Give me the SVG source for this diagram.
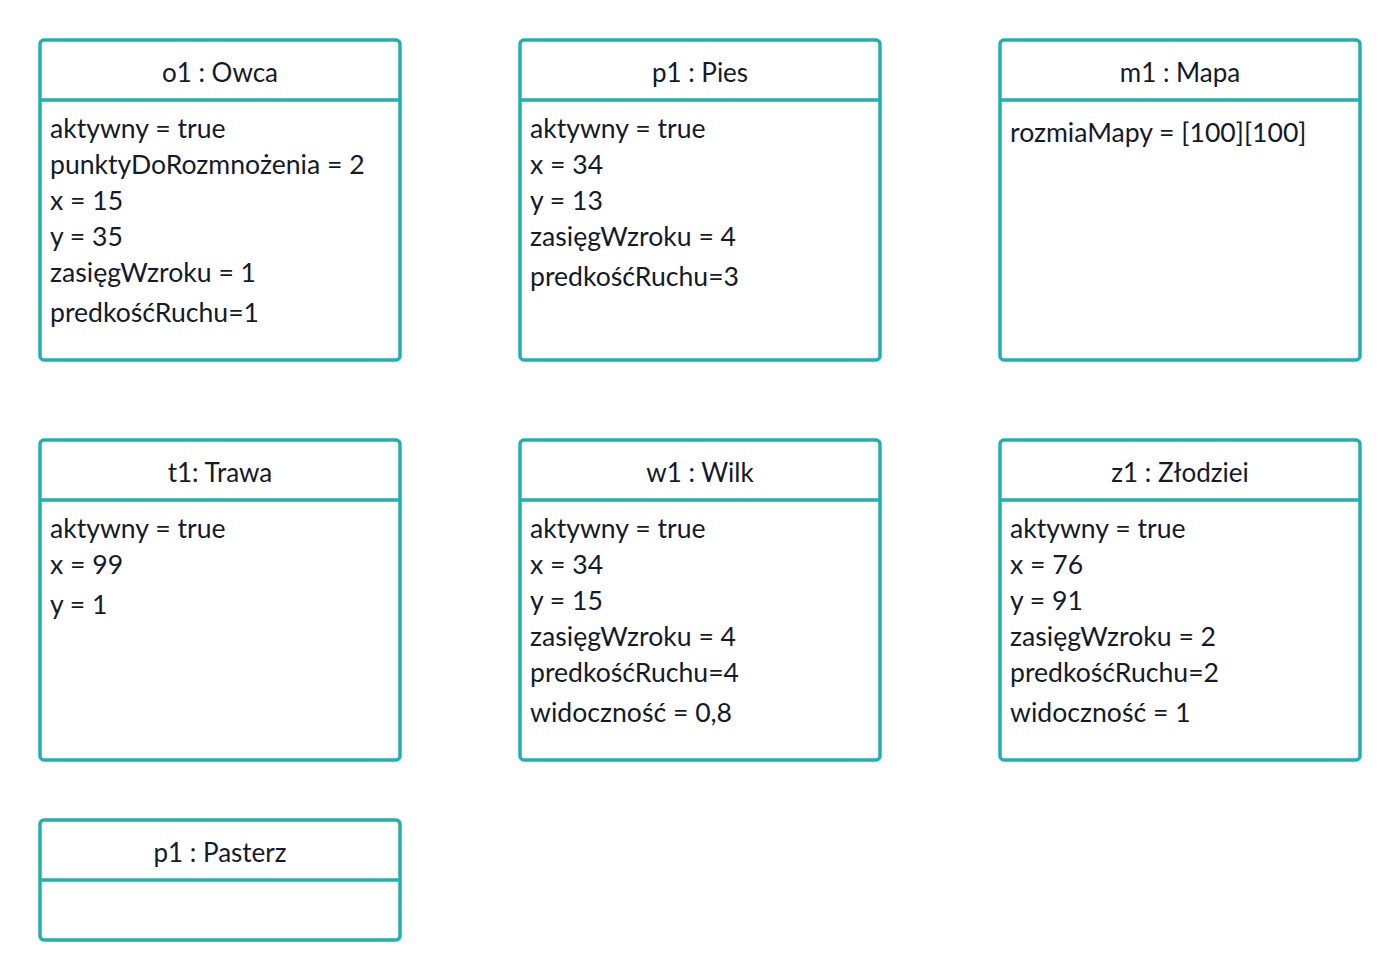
<svg xmlns="http://www.w3.org/2000/svg" width="1400" height="980" viewBox="0 0 1400 980">
<style>
.box{fill:#fff;stroke:#22b0aa;stroke-width:3.5}
.div{stroke:#22b0aa;stroke-width:3.5}
text{font-family:Lato,"Noto Sans",sans-serif;font-size:26.6px;fill:#141a2a}
.t{text-anchor:middle;font-size:26px}
</style>
<rect width="1400" height="980" fill="#fff"/>
<g id="o1">
<rect class="box" x="40" y="40" width="360" height="320" rx="4"/>
<line class="div" x1="40" y1="100" x2="400" y2="100"/>
<text class="t" x="220" y="82">o1 : Owca</text>
<text x="50" y="138">aktywny = true</text>
<text x="50" y="174">punktyDoRozmnożenia = 2</text>
<text x="50" y="210">x = 15</text>
<text x="50" y="246">y = 35</text>
<text x="50" y="282">zasięgWzroku = 1</text>
<text x="50" y="322">predkośćRuchu=1</text>
</g>
<g id="p1pies">
<rect class="box" x="520" y="40" width="360" height="320" rx="4"/>
<line class="div" x1="520" y1="100" x2="880" y2="100"/>
<text class="t" x="700" y="82">p1 : Pies</text>
<text x="530" y="138">aktywny = true</text>
<text x="530" y="174">x = 34</text>
<text x="530" y="210">y = 13</text>
<text x="530" y="246">zasięgWzroku = 4</text>
<text x="530" y="286">predkośćRuchu=3</text>
</g>
<g id="m1">
<rect class="box" x="1000" y="40" width="360" height="320" rx="4"/>
<line class="div" x1="1000" y1="100" x2="1360" y2="100"/>
<text class="t" x="1180" y="82">m1 : Mapa</text>
<text x="1010" y="142">rozmiaMapy = [100][100]</text>
</g>
<g id="t1">
<rect class="box" x="40" y="440" width="360" height="320" rx="4"/>
<line class="div" x1="40" y1="500" x2="400" y2="500"/>
<text class="t" x="220" y="482">t1: Trawa</text>
<text x="50" y="538">aktywny = true</text>
<text x="50" y="574">x = 99</text>
<text x="50" y="614">y = 1</text>
</g>
<g id="w1">
<rect class="box" x="520" y="440" width="360" height="320" rx="4"/>
<line class="div" x1="520" y1="500" x2="880" y2="500"/>
<text class="t" x="700" y="482">w1 : Wilk</text>
<text x="530" y="538">aktywny = true</text>
<text x="530" y="574">x = 34</text>
<text x="530" y="610">y = 15</text>
<text x="530" y="646">zasięgWzroku = 4</text>
<text x="530" y="682">predkośćRuchu=4</text>
<text x="530" y="722">widoczność = 0,8</text>
</g>
<g id="z1">
<rect class="box" x="1000" y="440" width="360" height="320" rx="4"/>
<line class="div" x1="1000" y1="500" x2="1360" y2="500"/>
<text class="t" x="1180" y="482">z1 : Złodziei</text>
<text x="1010" y="538">aktywny = true</text>
<text x="1010" y="574">x = 76</text>
<text x="1010" y="610">y = 91</text>
<text x="1010" y="646">zasięgWzroku = 2</text>
<text x="1010" y="682">predkośćRuchu=2</text>
<text x="1010" y="722">widoczność = 1</text>
</g>
<g id="p1pasterz">
<rect class="box" x="40" y="820" width="360" height="120" rx="4"/>
<line class="div" x1="40" y1="880" x2="400" y2="880"/>
<text class="t" x="220" y="862">p1 : Pasterz</text>
</g>
<g id="connectors"></g>
</svg>
